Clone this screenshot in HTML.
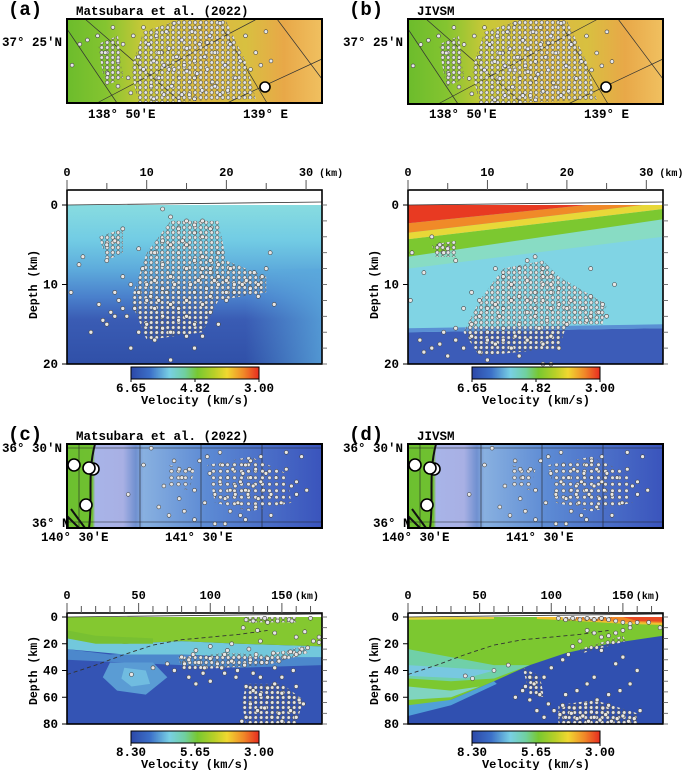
<!DOCTYPE html>
<html><head><meta charset="utf-8">
<style>
html,body{margin:0;padding:0;background:#fff;}
svg{display:block;}
text{font-family:"Liberation Mono","DejaVu Sans Mono",monospace;font-weight:bold;fill:#000;}
</style></head>
<body>
<svg id="fig" width="685" height="770" viewBox="0 0 685 770" xmlns="http://www.w3.org/2000/svg">
<defs>
<pattern id="dense" width="5.5" height="5" patternUnits="userSpaceOnUse">
<circle cx="2.7" cy="2.5" r="1.8" fill="#e4e4e4" stroke="#555" stroke-width="0.6"/>
</pattern>
<pattern id="dense2" width="7" height="6.5" patternUnits="userSpaceOnUse">
<circle cx="3.5" cy="3.2" r="1.8" fill="#e4e4e4" stroke="#555" stroke-width="0.6"/>
</pattern>
<linearGradient id="cbar" x1="0" x2="1" y1="0" y2="0">
<stop offset="0" stop-color="#2c48a8"/><stop offset="0.15" stop-color="#3c70c8"/><stop offset="0.3" stop-color="#78d0e4"/><stop offset="0.42" stop-color="#70d0a0"/><stop offset="0.52" stop-color="#78c830"/><stop offset="0.65" stop-color="#b8d028"/><stop offset="0.75" stop-color="#f0d830"/><stop offset="0.88" stop-color="#f08828"/><stop offset="1" stop-color="#e82c20"/>
</linearGradient>
<linearGradient id="mapAB" x1="0" x2="1" y1="0" y2="0">
<stop offset="0" stop-color="#6cbc2c"/><stop offset="0.15" stop-color="#84c430"/><stop offset="0.3" stop-color="#c8c838"/><stop offset="0.55" stop-color="#dcb840"/><stop offset="0.7" stop-color="#d8c040"/><stop offset="0.85" stop-color="#e8a848"/><stop offset="1" stop-color="#f0c060"/>
</linearGradient>
<linearGradient id="mapCD" x1="0" x2="1" y1="0" y2="0">
<stop offset="0" stop-color="#6cc030"/><stop offset="0.1" stop-color="#70c030"/><stop offset="0.11" stop-color="#a8b4e8"/><stop offset="0.22" stop-color="#a8b0e4"/><stop offset="0.27" stop-color="#7090d0"/><stop offset="0.3" stop-color="#88b0e0"/><stop offset="0.55" stop-color="#5c8ad4"/><stop offset="1" stop-color="#3a54bc"/>
</linearGradient>
<linearGradient id="secA" x1="0" x2="0" y1="0" y2="1">
<stop offset="0" stop-color="#88dce0"/><stop offset="0.22" stop-color="#72cce4"/><stop offset="0.4" stop-color="#5eacdc"/><stop offset="0.58" stop-color="#4a80cc"/><stop offset="0.72" stop-color="#3a5cb4"/><stop offset="1" stop-color="#3050a8"/>
</linearGradient>
<linearGradient id="secAr" x1="0" x2="1" y1="0" y2="0">
<stop offset="0" stop-color="#5aa8dc" stop-opacity="0"/><stop offset="1" stop-color="#5aa8dc" stop-opacity="0.8"/>
</linearGradient>
</defs>
<g id="root"></g>
</svg>
<script>
// ---------- data ----------
const secAx=[12,13,15,16,17,18,14,16,17,12,13,6,5,7,9,11,14,17,18,19,17,18,19,20,21,22,23,24,22.5,21,19,20,15,13,11,10,12,14,16,18,9,10,11,13,15,17,12,14,16,10,9,13,15,11,8,7,6,5,4,3,6,7,5,2,1.5,25,25.5,26,24,18,19,16,13,17,20,9.5,8,12,14.5,10.5,11.5,12.5,13.5,15.5,16.5,17.5,18.5,14,15,12,16,17,18,19,15,6.5,5.5,4.5,7.5,8.5,0.5,24.5,23.5,20.5];
const secAz=[0.5,1.5,2,2.5,2,3,3,3.5,4,4.5,5,4.5,5,3,5.5,6,6,6.5,7,6,8,8.5,9,9.5,10,10,10.5,10,9.5,11,10,11,8,9,9.5,10,10.5,11,11,11.5,11,12,13,12.5,12,12.5,14,14.5,15,15,16,16,16.5,17,18,13,14,15,12.5,16,11,9,7,6.5,7.5,8,6,12.5,11.5,13.5,15,18,19.5,16.5,12,8,10,7.5,4.5,11.5,12,11,10,10,9.5,10.5,9.5,13,14,15.5,7,9,8,7.5,5,12,13.5,14.5,14,13,11,9,8.5,8];
const secBx=[4,5,4.5,3,6,2,12,14,15,16,17,18,17,18,19,16,15,14,13,12,11,10,9,8,17,18,19,20,21,22,23,24,20,16,14,12,10,8,6,4,3,2,5,7,9,11,13,15,17,18,19,14,10,12,16,15,13,17.5,20.5,22.5,25,26,23,11,8,9,7,6,4.5,1.5,16.5,13.5,11.5,17,18,16,15,14,12,10,0.5,0.3,23,24.5,17,18];
const secBz=[5,5.5,6,4,7,8.5,9,8,7,6.5,8,9,10,11,10.5,11,12,11.5,12,13,12.5,13,14,15,12,13,12.5,13,13.5,13,14,13.5,15,14,15,15.5,16,16.5,17,17.5,18,18.5,19,18,18.5,17.5,18,17,17.5,16.5,18,19,19.5,11,13,9.5,10,14.5,12,14.5,14,10,8,8,11,12,13,15.5,16,17,15.5,16.5,14,9,10,12,13.5,16,17,17,6,12,11.5,12.5,20,20];
const secCx=[125,130,138,140,147,155,157,170,123,133,145,160,172,135,115,100,90,80,82,85,88,92,96,100,105,110,115,120,124,128,132,136,140,144,148,152,156,160,164,168,70,60,45,85,90,100,110,118,125,130,135,140,145,150,155,160,162,128,133,138,143,148,150,156,160,125,122,165,140,112,127,119,108,95,75,130,145,158,135,150,176,176,166];
const secCz=[2,3,1,4,3,2,3,1,8,10,12,15,18,18,20,22,25,30,35,32,28,34,38,31,35,28,33,30,36,32,28,34,31,27,33,30,26,28,24,23,35,38,43,45,50,48,42,45,52,55,58,53,50,57,60,52,62,65,70,68,75,72,78,70,75,75,78,65,60,25,24,40,38,42,40,42,38,40,45,45,15,19,11];
const secDx=[105,110,115,120,125,130,135,140,145,150,155,160,125,130,135,140,145,150,155,120,115,112,108,100,95,88,80,75,85,92,98,102,106,110,114,118,122,126,130,134,138,142,146,150,154,158,112,120,128,136,108,116,124,132,140,148,155,160,130,125,118,110,145,150,135,140,162,95,90,40,45,60,70,168,176,85,82];
const secDz=[1,2,1,2,1,2,1,2,3,4,5,4,10,12,15,14,12,10,8,18,22,28,32,38,45,50,55,60,62,58,65,70,73,75,72,76,74,78,75,77,73,78,76,74,78,76,79,79,71,68,66,68,65,62,58,55,50,40,45,50,55,58,35,30,25,66,70,75,70,44,46,40,36,4,8,45,52];
const mapAu=[0.02,0.05,0.08,0.12,0.15,0.16,0.18,0.2,0.22,0.24,0.26,0.28,0.3,0.3,0.32,0.33,0.34,0.35,0.36,0.37,0.38,0.39,0.4,0.4,0.41,0.42,0.43,0.44,0.45,0.45,0.46,0.47,0.48,0.49,0.5,0.5,0.51,0.52,0.53,0.54,0.55,0.56,0.57,0.58,0.6,0.62,0.64,0.66,0.68,0.7,0.72,0.74,0.76,0.78,0.8,0.36,0.42,0.48,0.52,0.58,0.44,0.38,0.34,0.6,0.63,0.25,0.2,0.47,0.55,0.5];
const mapAv=[0.55,0.3,0.25,0.2,0.4,0.65,0.1,0.5,0.3,0.7,0.2,0.45,0.6,0.1,0.3,0.8,0.5,0.2,0.7,0.4,0.9,0.15,0.6,0.35,0.8,0.05,0.45,0.7,0.25,0.9,0.55,0.35,0.75,0.15,0.5,0.95,0.65,0.3,0.85,0.45,0.6,0.2,0.75,0.4,0.9,0.55,0.3,0.7,0.5,0.2,0.6,0.4,0.55,0.15,0.5,0.4,0.6,0.9,0.1,0.8,0.98,0.55,0.95,0.05,0.85,0.88,0.8,0.62,0.28,0.7];
const mapCu=[0.24,0.3,0.33,0.38,0.4,0.42,0.44,0.45,0.46,0.48,0.5,0.52,0.54,0.56,0.58,0.6,0.61,0.62,0.63,0.64,0.65,0.66,0.67,0.68,0.69,0.7,0.71,0.72,0.73,0.74,0.75,0.76,0.77,0.78,0.8,0.82,0.84,0.86,0.88,0.9,0.92,0.94,0.66,0.7,0.74,0.68,0.72,0.64,0.76,0.62,0.8,0.5,0.44,0.55,0.36,0.58,0.86,0.9,0.7,0.6];
const mapCv=[0.6,0.25,0.05,0.5,0.85,0.2,0.65,0.4,0.8,0.3,0.55,0.2,0.7,0.35,0.6,0.45,0.25,0.65,0.4,0.55,0.3,0.5,0.7,0.45,0.35,0.55,0.6,0.4,0.5,0.3,0.65,0.45,0.55,0.35,0.6,0.4,0.7,0.3,0.5,0.45,0.15,0.55,0.6,0.25,0.75,0.85,0.2,0.8,0.15,0.95,0.85,0.9,0.3,0.15,0.75,0.95,0.1,0.6,0.9,0.1];
const plateX=[0,20,40,60,80,100,120,140];
const plateZ=[43,36,28,21,17,15,13,10];
const kmTicksS=[0,10,20,30];
const depthTicksS=[0,10,20];
const kmTicksL=[0,50,100,150];
const depthTicksL=[0,20,40,60,80];

// ---------- helpers ----------
const NS='http://www.w3.org/2000/svg';
const root=document.getElementById('root');
function el(tag,attrs,parent,txt){const e=document.createElementNS(NS,tag);for(const k in attrs)e.setAttribute(k,attrs[k]);if(txt!==undefined)e.textContent=txt;(parent||root).appendChild(e);return e;}
function lin(d0,d1,r0,r1){return v=>r0+(v-d0)/(d1-d0)*(r1-r0);}

// dense-seismicity shading regions (normalized map coords / km-depth coords)
const denseMapAB=[[[0.3,0.15],[0.45,0.0],[0.62,0.0],[0.7,0.5],[0.74,0.95],[0.28,1.0],[0.25,0.6]],[[0.12,0.3],[0.2,0.2],[0.22,0.7],[0.15,0.8]]];
const denseMapCD=[[[0.55,0.25],[0.72,0.15],[0.86,0.35],[0.88,0.7],[0.72,0.8],[0.58,0.7]],[[0.4,0.25],[0.5,0.3],[0.48,0.55],[0.4,0.5]]];
const denseSec={
 a:[[[10,6],[13,2],[19,2],[20,7],[25,9],[25,11],[19,12],[17,16],[10,17],[8,12],[9,9]],[[4,4],[7,3],[7,6],[5,7]]],
 b:[[[9,12],[12,8],[17,7],[19,9],[25,12.5],[24.5,15],[20,15],[19,18],[9,19],[7,16]],[[3,5],[6,4.5],[6,6.5],[3.5,6.5]]],
 c:[[[78,30],[110,27],[140,28],[165,22],[168,27],[140,36],[110,38],[80,40]],[[125,50],[150,50],[165,62],[160,80],[125,80],[122,65]],[[125,0],[160,0],[160,4],[125,4]]],
 d:[[[108,0],[142,0],[142,3],[108,3]],[[105,66],[130,62],[160,72],[160,80],[105,80]],[[80,38],[92,44],[95,60],[85,58]],[[120,24],[150,14],[152,18],[122,27]]]
};

function mapPanel(x0,y0,w,h,kind,label,title,us,vs,name){
  const g=el('g',{});
  
  
  el('text',{x:x0-59,y:y0-4,'font-size':19},g,label);
  el('text',{x:x0+9,y:y0-4,'font-size':12.5},g,title);
  el('rect',{x:x0,y:y0,width:w,height:h,fill:kind=='ab'?'url(#mapAB)':'url(#mapCD)'},g);
  const sx=lin(0,1,x0,x0+w), sy=lin(0,1,y0,y0+h);
  if(kind=='ab'){
    el('path',{d:`M${x0} ${y0+10} L${x0+50} ${y0+h} M${x0+18} ${y0} L${x0+115} ${y0+h} M${x0+30} ${y0+h} L${x0+190} ${y0} M${x0+150} ${y0} L${x0+200} ${y0+h} M${x0+210} ${y0} L${x0+255} ${y0+60} M${x0+160} ${y0+h} L${x0+255} ${y0+40}`,stroke:'#333','stroke-width':0.7,fill:'none'},g);
  } else {
    el('path',{d:`M${x0+28} ${y0} C${x0+20} ${y0+30},${x0+26} ${y0+55},${x0+22} ${y0+h} M${x0+18} ${y0+h} L${x0+4} ${y0+65} M${x0+12} ${y0+h} L${x0} ${y0+72}`,stroke:'#111','stroke-width':2,fill:'none'},g);
    el('path',{d:`M${x0} ${y0+4} H${x0+w} M${x0} ${y0+78} H${x0+w} M${x0+73} ${y0} V${y0+h} M${x0+134} ${y0} V${y0+h} M${x0+195} ${y0} V${y0+h} M${x0+12} ${y0} V${y0+h}`,stroke:'#222','stroke-width':0.6,fill:'none'},g);
  }
  (kind=='ab'?denseMapAB:denseMapCD).forEach(poly=>{
    const p=el('polygon',{points:poly.map(q=>sx(q[0]).toFixed(1)+','+sy(q[1]).toFixed(1)).join(' '),fill:kind=='ab'?'url(#dense)':'url(#dense2)'},g);
    
    
  });
  for(let i=0;i<us.length;i++){
    const c=el('circle',{cx:sx(us[i]).toFixed(1),cy:sy(vs[i]).toFixed(1),r:1.9,fill:'#e8e8e8',stroke:'#444','stroke-width':0.6},g);
    
    
  }
  const big=kind=='ab'?[[x0+198,y0+68]]:[[x0+7,y0+21],[x0+26,y0+25],[x0+22,y0+24],[x0+19,y0+61]];
  big.forEach(p=>{const c=el('circle',{cx:p[0],cy:p[1],r:kind=='ab'?5:6,fill:'#fff',stroke:'#000','stroke-width':1.6},g);});
  el('rect',{x:x0,y:y0,width:w,height:h,fill:'none',stroke:'#000','stroke-width':2},g);
  if(kind=='ab'){
    el('text',{x:x0-65,y:y0+27,'font-size':12.5},g,'37° 25′N');
    el('text',{x:x0+21,y:y0+99,'font-size':12.5},g,'138° 50′E');
    el('text',{x:x0+176,y:y0+99,'font-size':12.5},g,'139° E');
  } else {
    el('text',{x:x0-65,y:y0+8,'font-size':12.5},g,'36° 30′N');
    el('text',{x:x0-35,y:y0+83,'font-size':12.5},g,'36° N');
    el('text',{x:x0-26,y:y0+97,'font-size':12.5},g,'140° 30′E');
    el('text',{x:x0+98,y:y0+97,'font-size':12.5},g,'141° 30′E');
  }
}

function section(x0,w,ytop,yz0,yz1,kmMax,zMax,kmTicks,zTicks,minorStep,kind,xs,zs,cbY,cbLabels,name){
  const g=el('g',{});
  
  
  const X=lin(0,kmMax,x0,x0+w), Z=lin(0,zMax,yz0,yz1);
  const id='clip'+kind;
  const cp=el('clipPath',{id:id},g);
  el('rect',{x:x0,y:yz0,width:w,height:yz1-yz0},cp);
  const bg=el('g',{'clip-path':`url(#${id})`},g);
  const P=(pts,fill,par)=>el('polygon',{points:pts.map(p=>X(p[0]).toFixed(1)+','+Z(p[1]).toFixed(1)).join(' '),fill:fill},par||bg);
  const K=kmMax;
  if(kind=='a'){
    el('rect',{x:x0,y:yz0,width:w,height:yz1-yz0,fill:'url(#secA)'},bg);
    el('rect',{x:x0+w*0.7,y:Z(8),width:w*0.3,height:yz1-Z(8),fill:'url(#secAr)'},bg);
  } else if(kind=='b'){
    P([[0,0],[K,0],[K,20],[0,20]],'#80d4e4');
    P([[0,6.5],[K,1.8],[K,4],[0,8]],'#88dcc4');
    P([[0,4.3],[K,0.5],[K,1.8],[0,6.5]],'#7cc830');
    P([[0,3.5],[K,-0.3],[K,0.5],[0,4.3]],'#e8d838');
    P([[0,2.3],[K,-1],[K,-0.3],[0,3.5]],'#f08a28');
    P([[0,-1],[K,-1],[K,-1],[0,2.3]],'#e83a22');
    P([[0,16],[K,15.5],[K,20],[0,20]],'#3c5cb8');
    P([[0,15.5],[K,15],[K,15.5],[0,16]],'#5a90d4');
  } else if(kind=='c'){
    P([[0,0],[K,0],[K,80],[0,80]],'#3454b4');
    P([[0,24],[30,28],[60,26],[100,30],[140,27],[K,30],[K,36],[120,38],[80,36],[40,34],[0,32]],'#4c88cc');
    P([[30,34],[60,34],[70,45],[55,58],[35,55],[25,45]],'#5a9cd4');
    P([[40,38],[55,40],[58,50],[45,52],[38,46]],'#70bce0');
    P([[0,16],[40,20],[80,18],[120,20],[K,22],[K,30],[120,30],[80,28],[40,28],[0,24]],'#72c8dc');
    P([[0,0],[K,0],[K,22],[120,20],[80,18],[40,20],[0,16]],'#84c830');
    P([[0,10],[20,14],[60,16],[60,20],[20,20],[0,16]],'#78c032');
  } else {
    P([[0,0],[K,0],[K,80],[0,80]],'#3050b0');
    P([[0,0],[K,0],[K,14],[140,20],[110,27],[85,36],[60,48],[30,62],[0,72]],'#7cc830');
    P([[0,24],[30,30],[60,36],[85,36],[60,46],[30,48],[0,46]],'#70d0a8');
    P([[0,36],[30,38],[60,40],[40,46],[0,44]],'#78c8e0');
    P([[0,52],[30,55],[50,52],[30,60],[0,62]],'#80d4c0');
    P([[0,66],[30,62],[60,48],[62,50],[30,66],[0,74]],'#50a0d8');
    P([[90,0],[K,0],[K,6],[150,5],[110,2.5],[90,1.5]],'#f0c030');
    P([[110,0],[K,0],[K,4.5],[150,3.5],[110,1.5]],'#f08828');
    P([[150,0],[K,0],[K,3.5],[160,3]],'#e84a24');
    P([[0,0],[60,0],[60,1.5],[0,2]],'#e0d040');
  }
  el('rect',{x:x0,y:ytop,width:w,height:yz0-ytop,fill:'#fff'},g);
  if(kind=='c'||kind=='d'){
    const pd=plateX.map((v,i)=>(i?'L':'M')+X(v).toFixed(1)+' '+Z(plateZ[i]).toFixed(1)).join(' ');
    const pl=el('path',{d:pd,fill:'none',stroke:'#333','stroke-width':0.9,'stroke-dasharray':'4,3'},g);
    
    
  }
  denseSec[kind].forEach(poly=>{
    const p=P(poly,'url(#dense)',g);
    
    
  });
  for(let i=0;i<xs.length;i++){
    const c=el('circle',{cx:X(xs[i]).toFixed(1),cy:Z(zs[i]).toFixed(1),r:2,fill:'#e6e6e6',stroke:'#444','stroke-width':0.6},g);
    
    
  }
  el('line',{x1:x0,y1:yz0,x2:x0+w,y2:yz0-3,stroke:'#333','stroke-width':0.8},g);
  el('rect',{x:x0,y:ytop,width:w,height:yz1-ytop,fill:'none',stroke:'#000','stroke-width':1.6},g);
  for(let k=0;k<=kmMax;k+=minorStep){el('line',{x1:X(k),y1:ytop,x2:X(k),y2:ytop-(k%kmTicks[1]==0?10:7),stroke:'#555','stroke-width':1},g);}
  for(let z=0;z<=zMax;z+=zMax/10){el('line',{x1:x0+w,y1:Z(z),x2:x0+w+5,y2:Z(z),stroke:'#555','stroke-width':0.8},g);}
  kmTicks.forEach(k=>{el('text',{x:X(k),y:ytop-14,'font-size':12,'text-anchor':'middle'},g,String(k));});
  el('text',{x:X(kmTicks[kmTicks.length-1])+13,y:ytop-14,'font-size':10},g,'(km)');
  zTicks.forEach(z=>{el('line',{x1:x0-5,y1:Z(z),x2:x0,y2:Z(z),stroke:'#000','stroke-width':1},g);el('text',{x:x0-9,y:Z(z)+4,'font-size':12.5,'text-anchor':'end'},g,String(z));});
  const yc=(yz0+yz1)/2;
  el('text',{x:0,y:0,'font-size':11.5,'text-anchor':'middle',transform:`translate(${x0-30},${yc}) rotate(-90)`},g,'Depth (km)');
  const cb=el('rect',{x:x0+64,y:cbY,width:128,height:12,fill:'url(#cbar)',stroke:'#000','stroke-width':1},g);
  
  
  [0,64,128].forEach((o,i)=>{el('line',{x1:x0+64+o,y1:cbY+12,x2:x0+64+o,y2:cbY+15,stroke:'#000'},g);el('text',{x:x0+64+o,y:cbY+25,'font-size':12.5,'text-anchor':'middle'},g,cbLabels[i]);});
  el('text',{x:x0+128,y:cbY+37,'font-size':12,'text-anchor':'middle'},g,'Velocity (km/s)');
}

mapPanel(67,19,255,84,'ab','(a)','Matsubara et al. (2022)',mapAu,mapAv,'map-a');
mapPanel(408,19,255,85,'ab','(b)','JIVSM',mapAu,mapAv,'map-b');
mapPanel(67,444,255,84,'cd','(c)','Matsubara et al. (2022)',mapCu,mapCv,'map-c');
mapPanel(408,444,255,84,'cd','(d)','JIVSM',mapCu,mapCv,'map-d');

section(67,255,190,205,364,32,20,kmTicksS,depthTicksS,5,'a',secAx,secAz,367,['6.65','4.82','3.00'],'section-a');
section(408,255,190,205,364,32.1,20,kmTicksS,depthTicksS,5,'b',secBx,secBz,367,['6.65','4.82','3.00'],'section-b');
section(67,255,613,617,724,178,80,kmTicksL,depthTicksL,10,'c',secCx,secCz,731,['8.30','5.65','3.00'],'section-c');
section(408,255,613,617,724,178,80,kmTicksL,depthTicksL,10,'d',secDx,secDz,731,['8.30','5.65','3.00'],'section-d');
</script>
</body></html>
